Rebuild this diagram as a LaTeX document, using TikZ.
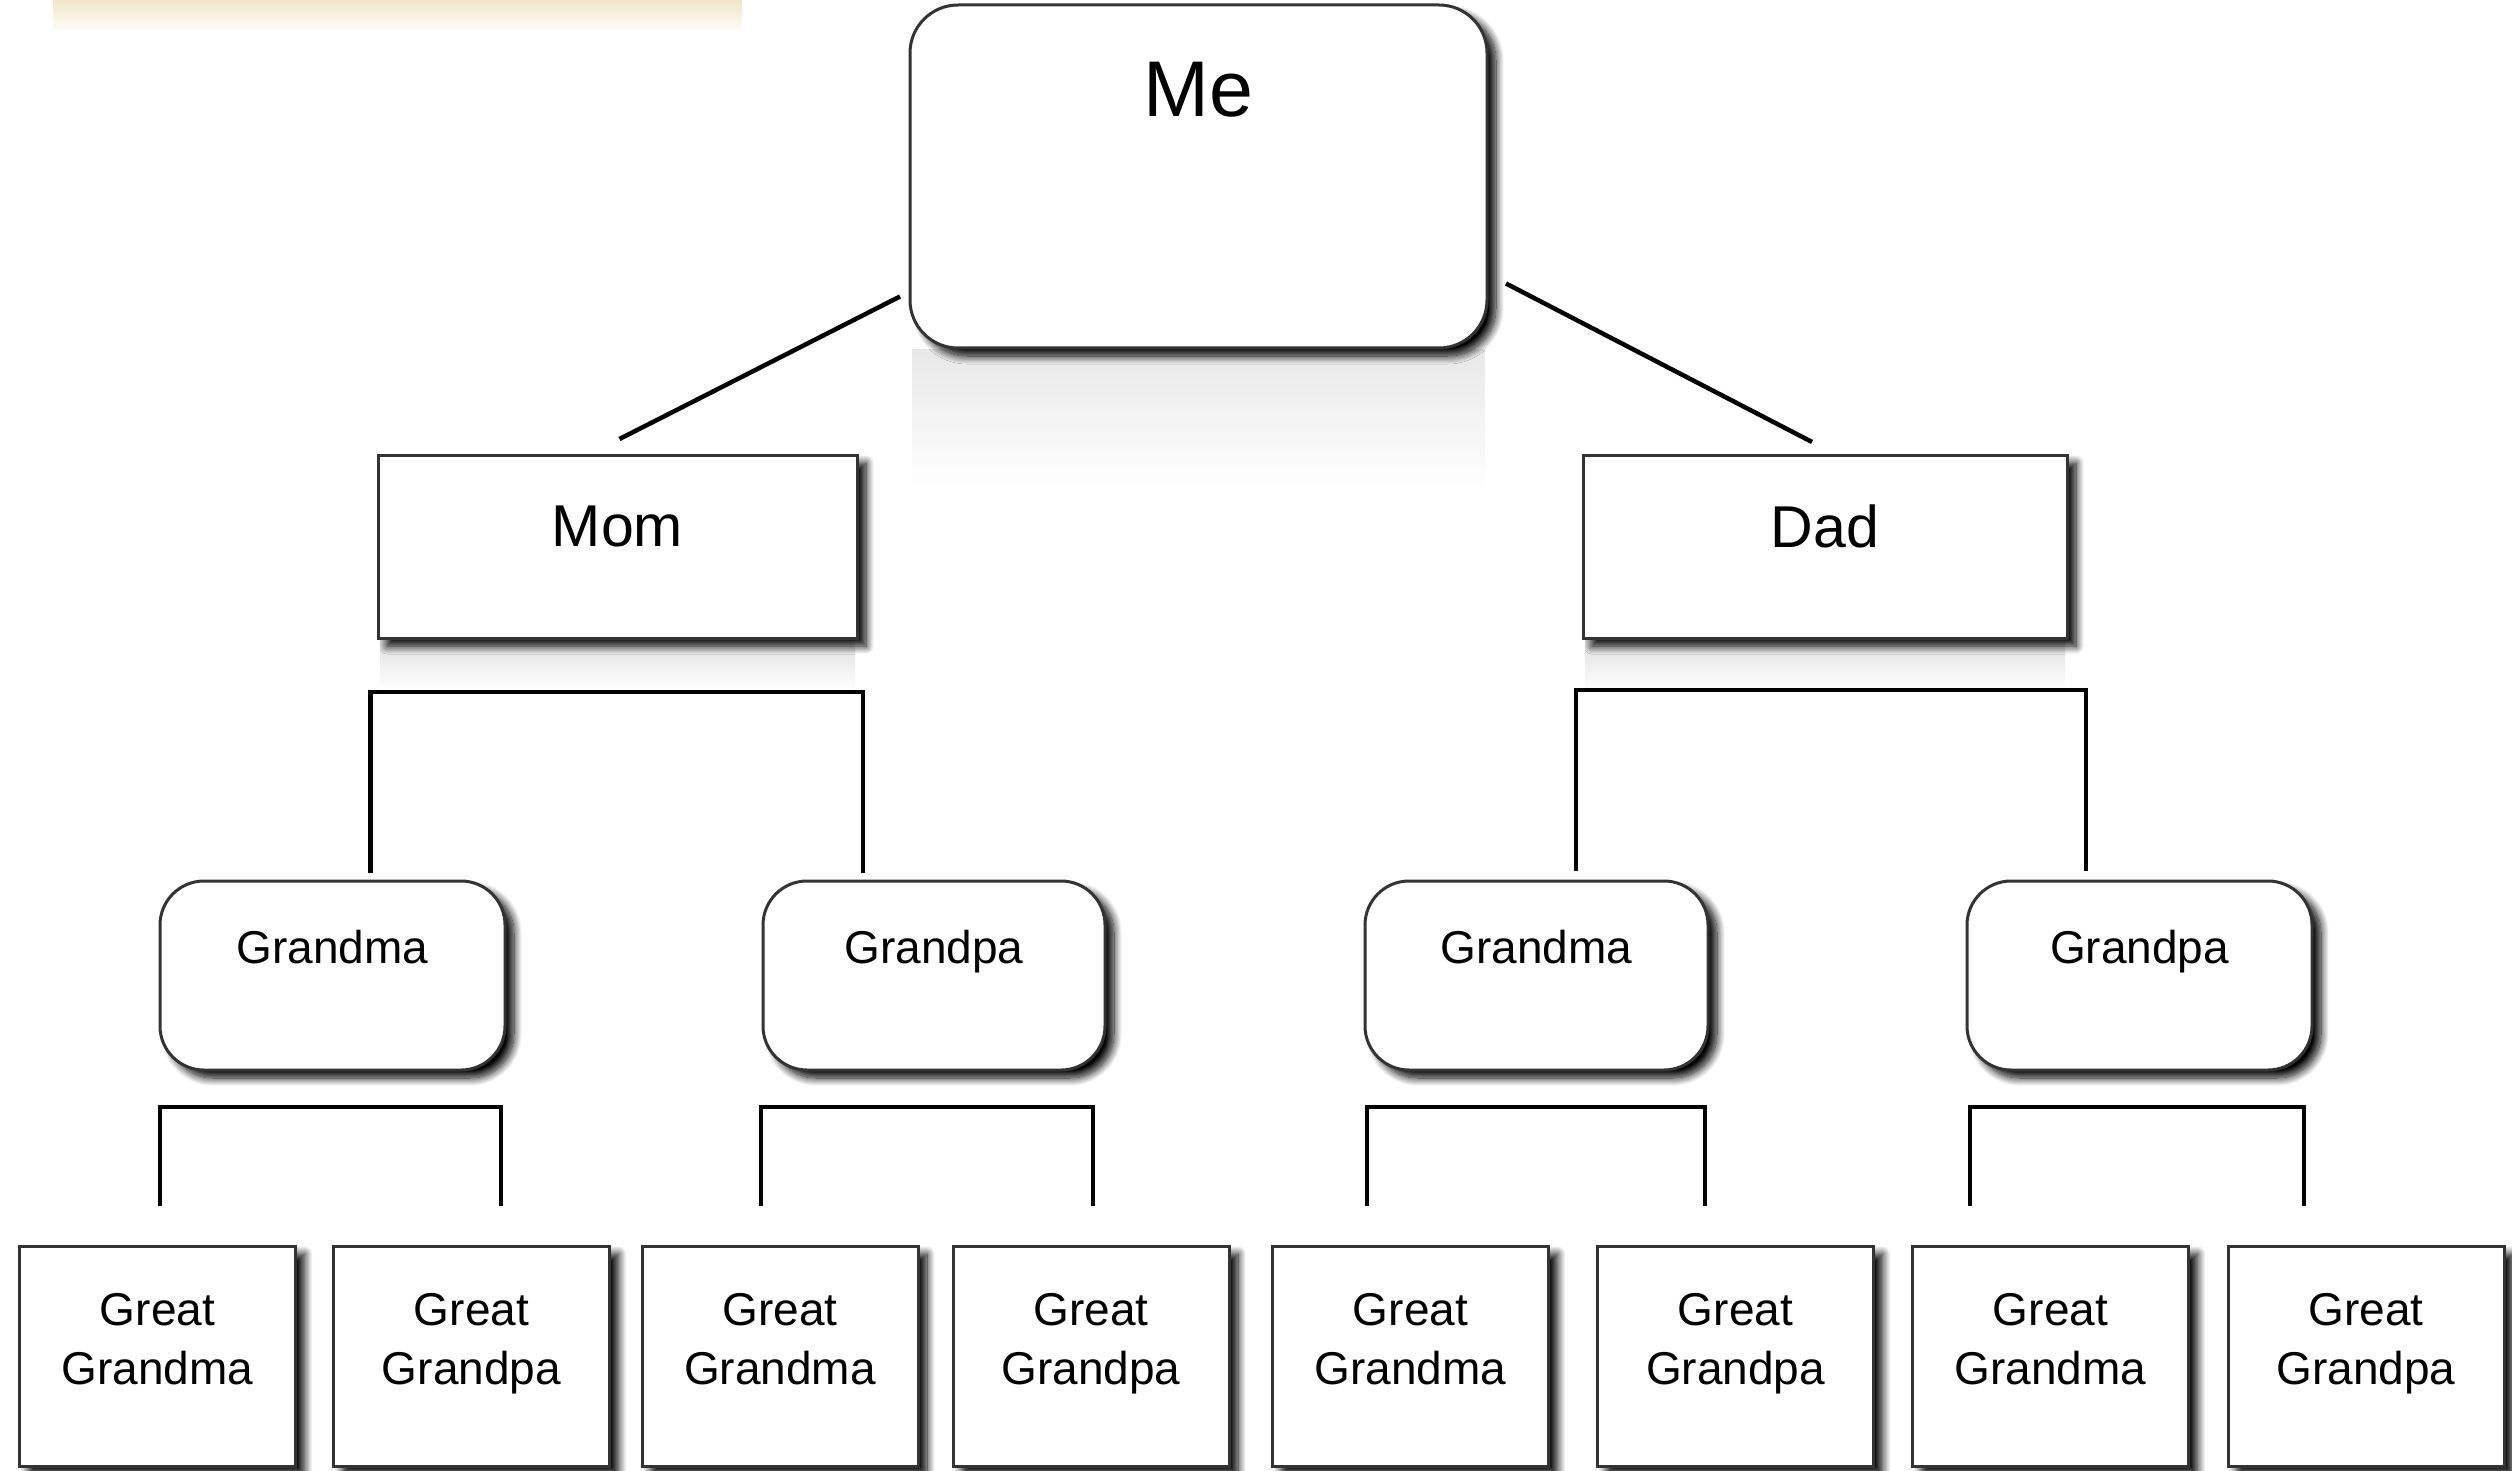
\documentclass[tikz,border=0pt]{standalone}
\usepackage{fontspec}
\setmainfont{Liberation Sans}
\usetikzlibrary{calc,shadows.blur}
\definecolor{stripcol}{RGB}{240,228,200}
\definecolor{creamcol}{RGB}{255,252,244}
\tikzset{
  boxshadow/.style={blur shadow={shadow xshift=9pt, shadow yshift=-8pt, shadow blur radius=8pt, shadow blur steps=14, shadow opacity=100}},
  sqbox/.style={draw=black!80, line width=3pt, fill=white, inner sep=0pt, outer sep=0pt, boxshadow},
  rndbox/.style={sqbox, rounded corners=44pt},
  conn/.style={draw=black, line width=4.5pt},
  bigtxt/.style={font=\fontsize{79}{90}\selectfont, inner sep=0pt, text depth=0.22em},
  midtxt/.style={font=\fontsize{59}{68}\selectfont, inner sep=0pt, text depth=0.22em},
  smalltxt/.style={font=\fontsize{46}{59}\selectfont, inner sep=0pt, align=center, text depth=0.22em},
}
\begin{document}
\begin{tikzpicture}[x=1pt,y=-1pt]
\useasboundingbox (0,0) rectangle (2512,1471);
% faint strip at the top left
\shade[top color=stripcol, bottom color=creamcol] (53,-2) rectangle (742,30);
% reflections
\shade[top color=black!9, bottom color=white] (912,350) rectangle (1485,490);
\shade[top color=black!12, bottom color=white] (380,640) rectangle (855,690);
\shade[top color=black!12, bottom color=white] (1585,640) rectangle (2065,690);
% level 0
\node[rndbox, rounded corners=48pt, minimum width=577pt, minimum height=343pt] (me) at (1198.5,176.5) {};
\node[bigtxt] (metxt) at ($(me.north)+(0,85)$) {Me};
% level 1
\node[sqbox, minimum width=479pt, minimum height=183pt] (mom) at (617.5,546.5) {};
\node[midtxt] (momtxt) at ($(mom.center)+(0,-19)$) {Mom};
\node[sqbox, minimum width=484pt, minimum height=183pt] (dad) at (1825,546.5) {};
\node[midtxt] (dadtxt) at ($(dad.center)+(0,-19)$) {Dad};
% level 2
\foreach \n/\x/\w/\t in {gma1/332.5/345/Grandma, gpa1/934/342/Grandpa, gma2/1536.5/343/Grandma, gpa2/2139.5/345/Grandpa}{
  \node[rndbox, minimum width=\w pt, minimum height=189pt] (\n) at (\x,975.5) {};
  \node[smalltxt] (\n txt) at ($(\n.center)+(0,-28)$) {\t};
}
% level 3
\foreach \n/\x/\t in {g1/157.5/Grandma, g2/471.5/Grandpa, g3/780/Grandma, g4/1091/Grandpa, g5/1410.5/Grandma, g6/1735.5/Grandpa, g7/2050.5/Grandma, g8/2366/Grandpa}{
  \node[sqbox, minimum width=276pt, minimum height=220pt] (\n) at (\x,1356) {};
  \node[smalltxt] (\n txt) at ($(\n.center)+(0,-16)$) {Great\\\t};
}
% connectors
\draw[conn] ($(me.west)+(-10,120)$) -- ($(mom.north)+(2,-16)$);
\draw[conn] ($(me.east)+(19,107)$) -- ($(dad.north)+(-13,-13)$);
\draw[conn] ($(gma1.north)+(38,-8)$) |- ($(mom.south)+(0,54)$) -| ($(gpa1.north)+(-71,-8)$);
\draw[conn] ($(gma2.north)+(39.5,-10)$) |- ($(dad.south)+(0,52)$) -| ($(gpa2.north)+(-53.5,-10)$);
\draw[conn] ($(g1.north)+(2.5,-40)$) |- ($(gma1.south)+(0,37)$) -| ($(g2.north)+(29.5,-40)$);
\draw[conn] ($(g3.north)+(-19,-40)$) |- ($(gpa1.south)+(0,37)$) -| ($(g4.north)+(2,-40)$);
\draw[conn] ($(g5.north)+(-43.5,-40)$) |- ($(gma2.south)+(0,37)$) -| ($(g6.north)+(-30.5,-40)$);
\draw[conn] ($(g7.north)+(-80.5,-40)$) |- ($(gpa2.south)+(0,37)$) -| ($(g8.north)+(-62,-40)$);
\end{tikzpicture}
\end{document}
